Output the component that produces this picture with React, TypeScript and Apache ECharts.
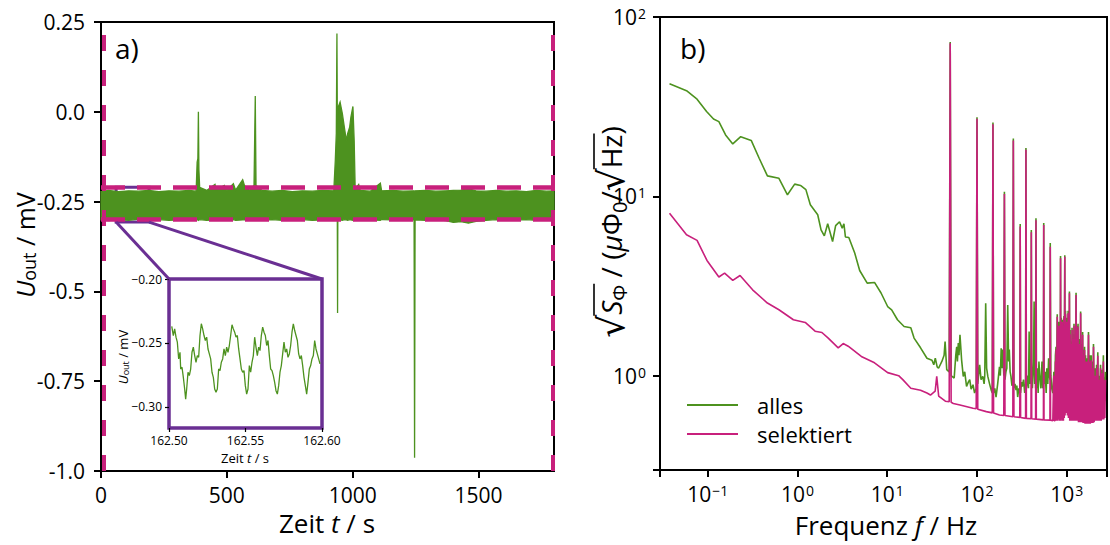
import React, { useEffect, useRef } from 'react';
import * as echarts from 'echarts';

const GREEN = '#4d921f';
const MAGENTA = '#c8207c';
const PURPLE = '#6a2f93';
const FONT = '"Open Sans", "DejaVu Sans", sans-serif';
const RAD_FONT = '"DejaVu Sans", sans-serif';

// ---------- panel a): envelope of the recorded trace [time s, upper mV, lower mV]
const traceEnvelope: [number, number, number][] = [
  [0, -0.222, -0.301], [30, -0.219, -0.303], [70, -0.222, -0.300], [110, -0.220, -0.302],
  [150, -0.221, -0.299], [190, -0.219, -0.303], [230, -0.222, -0.300], [270, -0.220, -0.302],
  [310, -0.221, -0.301], [350, -0.219, -0.300], [378, -0.221, -0.302], [382, -0.14, -0.301],
  [385, -0.13, -0.300], [387, 0.0, -0.302], [389, -0.16, -0.301], [392, -0.21, -0.300],
  [420, -0.219, -0.302], [453, -0.202, -0.301], [458, -0.218, -0.300], [490, -0.205, -0.302],
  [500, -0.219, -0.301], [526, -0.200, -0.300], [535, -0.218, -0.302], [563, -0.189, -0.301],
  [570, -0.205, -0.300], [590, -0.219, -0.302], [608, -0.205, -0.301], [613, 0.044, -0.300],
  [616, -0.205, -0.302], [640, -0.219, -0.301], [680, -0.221, -0.300], [720, -0.219, -0.302],
  [760, -0.222, -0.301], [800, -0.220, -0.300], [840, -0.221, -0.302], [880, -0.219, -0.301],
  [925, -0.220, -0.300], [931, -0.135, -0.302], [935, -0.06, -0.301], [937.5, 0.218, -0.300],
  [939, -0.02, -0.300], [940, -0.02, -0.56], [941, 0.01, -0.300], [950, 0.027, -0.301],
  [959, -0.005, -0.302], [967, -0.043, -0.300], [975, -0.08, -0.301], [980, -0.061, -0.302],
  [988, -0.043, -0.300], [993, -0.015, -0.301], [1001, 0.015, -0.302], [1006, -0.08, -0.300],
  [1010, -0.215, -0.301], [1024, -0.202, -0.302], [1030, -0.219, -0.300], [1070, -0.221, -0.301],
  [1110, -0.199, -0.302], [1115, -0.220, -0.300], [1160, -0.219, -0.301], [1200, -0.221, -0.302],
  [1244, -0.220, -0.300], [1246, -0.221, -0.963], [1248, -0.220, -0.301], [1290, -0.219, -0.302],
  [1330, -0.221, -0.300], [1370, -0.220, -0.303], [1400, -0.219, -0.308], [1430, -0.218, -0.306],
  [1460, -0.214, -0.310], [1490, -0.220, -0.305], [1530, -0.221, -0.302], [1570, -0.219, -0.300],
  [1610, -0.221, -0.302], [1650, -0.220, -0.301], [1690, -0.222, -0.300], [1730, -0.219, -0.302],
  [1770, -0.221, -0.301], [1800, -0.220, -0.300],
];
const selectionTimes = [10, 1795];
const selectionLevels = [-0.21, -0.305];
const zoomBoxTime = [60, 191];
const zoomBoxLevel = [-0.307, -0.21];

const mainXTicks = [0, 500, 1000, 1500];
const mainYTicks = [-1.0, -0.75, -0.5, -0.25, 0.0, 0.25];
const mainYTickLabels = ['-1.0', '-0.75', '-0.5', '-0.25', '0.0', '0.25'];

// ---------- inset
const insetTime = [
  162.5018, 162.50283, 162.5037, 162.50458, 162.50545, 162.50632, 162.50719, 162.50763, 162.5085, 162.50937,
  162.51024, 162.51089, 162.51155, 162.51242, 162.51329, 162.51416, 162.51503, 162.5159, 162.51678, 162.51765,
  162.51852, 162.51939, 162.52026, 162.52113, 162.522, 162.52288, 162.52375, 162.52462, 162.52549, 162.52636,
  162.52723, 162.5281, 162.52898, 162.52985, 162.53072, 162.53159, 162.53246, 162.53333, 162.5342, 162.53508,
  162.53595, 162.53682, 162.53769, 162.53856, 162.53943, 162.5403, 162.54118, 162.54205, 162.54292, 162.54379,
  162.54466, 162.54553, 162.54641, 162.54728, 162.54815, 162.54902, 162.54989, 162.55076, 162.55163,
  162.55251, 162.55338, 162.55425, 162.55512, 162.55599, 162.55686, 162.55773, 162.55861, 162.55948, 162.56035,
  162.56122, 162.56209, 162.56296, 162.56383, 162.56471, 162.56558, 162.56645, 162.56732, 162.56819, 162.56906,
  162.56993, 162.57081, 162.57168, 162.57255, 162.57342, 162.57429, 162.57516, 162.57603, 162.57691, 162.57778,
  162.57865, 162.57952, 162.58039, 162.58126, 162.58214, 162.58301, 162.58388, 162.58475, 162.58562, 162.58649,
  162.58736, 162.58824, 162.58911, 162.58998, 162.59085, 162.59172, 162.59259, 162.59346, 162.59434, 162.59521,
  162.59608, 162.59695, 162.59782, 162.59869,
];
const insetValue = [
  -0.237, -0.2442, -0.239, -0.2455, -0.2494, -0.2625, -0.2573, -0.2704, -0.269, -0.2769,
  -0.286, -0.2939, -0.286, -0.2729, -0.2755, -0.2704, -0.2573, -0.2533, -0.2599, -0.2651,
  -0.2599, -0.2612, -0.2442, -0.235, -0.239, -0.2442, -0.2481, -0.2455, -0.2547, -0.2586,
  -0.2625, -0.2729, -0.2769, -0.286, -0.2886, -0.286, -0.2704, -0.2716, -0.2651, -0.2625,
  -0.2547, -0.2599, -0.2533, -0.2573, -0.252, -0.2442, -0.2358, -0.239, -0.2416, -0.2455,
  -0.2442, -0.2547, -0.2625, -0.2704, -0.2729, -0.2716, -0.2834, -0.29, -0.286,
  -0.2677, -0.2729, -0.2651, -0.2599, -0.2455, -0.2533, -0.2599, -0.2533, -0.256, -0.2442,
  -0.2376, -0.2416, -0.2442, -0.252, -0.2481, -0.2599, -0.2704, -0.2716, -0.2755, -0.2808,
  -0.2873, -0.29, -0.2834, -0.2729, -0.2677, -0.2586, -0.2494, -0.2573, -0.2547, -0.2612,
  -0.2586, -0.252, -0.2416, -0.235, -0.2403, -0.2442, -0.2481, -0.2586, -0.2625, -0.2599,
  -0.2677, -0.2769, -0.2834, -0.29, -0.2808, -0.2704, -0.2677, -0.2625, -0.2599, -0.2481,
  -0.2547, -0.2586, -0.2625, -0.2664,
];
const insetXTicks = [162.5, 162.55, 162.6];
const insetYTicks = [-0.3, -0.25, -0.2];

// ---------- panel b): spectral density [frequency Hz, sqrt(S) µΦ0/√Hz]
const psdAlles: [number, number][] = [
  [0.0375, 42.4], [0.058, 38.8], [0.076, 34.8], [0.097, 29.7], [0.116, 27.0], [0.133, 26.1], [0.158, 22.0],
  [0.19, 19.6], [0.233, 21.5], [0.305, 20.5], [0.374, 16.3], [0.462, 13.0], [0.621, 12.6], [0.773, 10.2],
  [0.93, 11.7], [1.08, 11.5], [1.24, 10.9], [1.39, 8.97], [1.68, 7.89], [1.83, 6.5], [1.99, 6.02], [2.17, 7.03],
  [2.46, 5.6], [2.66, 6.86], [2.94, 7.21], [3.15, 6.65], [3.29, 7.03], [3.42, 5.93], [3.73, 5.89], [4.34, 4.83],
  [4.93, 3.86], [5.98, 3.28], [7.21, 3.31], [8.53, 2.89], [10.1, 2.43], [11.2, 2.33], [13.0, 2.05], [15.4, 1.88],
  [18.3, 1.85], [19.9, 1.62], [23.5, 1.43], [27.7, 1.25], [31.5, 1.22], [33.0, 1.15], [34.3, 1.25], [36.0, 1.12],
  [37.3, 1.1], [40.6, 1.2], [43.0, 1.3], [44.1, 1.55], [46.0, 1.08], [49.0, 1.05], [50.3, 72.5], [51.5, 1.0],
  [55.7, 0.97], [58.0, 1.3], [59.4, 1.45], [60.5, 1.2], [61.9, 1.52], [63.0, 1.3], [64.6, 1.69], [67.4, 1.22],
  [70.3, 0.99], [73.0, 1.05], [76.5, 0.87], [80.0, 0.92], [83.0, 0.95], [86.0, 0.84], [90.3, 0.89], [94.0, 0.8],
  [98, 0.85], [100, 27.6], [102, 0.9], [107, 1.15], [111, 0.95], [116, 0.99], [120, 0.9], [122, 1.0], [125, 2.53],
  [128, 1.1], [132, 0.99], [138, 0.9], [144, 0.83], [148, 0.8], [150.6, 25.8], [153, 0.8], [158, 0.85], [163, 0.76],
  [170, 0.9], [178, 1.12], [182, 1.0], [186, 1.42], [190, 1.1], [194, 1.4], [199, 1.0], [202, 10.6], [205, 0.95],
  [210, 1.05], [215, 1.1], [220, 2.48], [225, 1.2], [229, 1.4], [234, 1.05], [239, 0.99], [245, 0.88], [251, 0.9],
  [254, 21.0], [258, 0.85], [265, 0.9], [272, 0.83], [278, 0.88], [284, 0.76], [292, 0.85], [300, 0.8], [303, 7.0],
  [306, 0.8], [313, 0.92], [320, 0.87], [330, 0.95], [340, 0.8], [348, 0.9], [351, 18.6], [355, 0.85], [362, 0.92],
  [370, 1.0], [375, 0.85], [381, 1.76], [386, 1.0], [390, 0.9], [400, 0.95], [403, 6.5], [407, 0.99], [414, 0.85],
  [420, 1.0], [427, 1.2], [433, 2.59], [437, 1.1], [440, 0.9], [446, 1.3], [450, 0.85], [454, 7.55], [460, 0.85],
  [470, 1.1], [480, 0.8], [490, 1.2], [500, 1.0], [515, 0.85], [530, 1.2], [540, 0.85], [550, 0.9], [554, 7.1],
  [560, 0.9], [575, 1.05], [590, 0.8], [600, 1.1], [615, 0.9], [628, 1.25], [640, 1.0], [650, 0.95], [655, 5.5],
  [665, 1.0], [680, 0.85], [700, 0.8], [712, 0.95], [719, 1.05], [730, 0.75], [748, 1.3], [760, 1.45], [768, 0.75],
  [784, 2.2], [792, 0.75], [810, 2.0], [820, 1.55], [830, 0.75], [840, 2.0], [846, 0.75], [853, 4.65], [860, 0.75],
  [870, 2.1], [878, 0.75], [890, 2.05], [898, 0.75], [910, 2.0], [918, 0.75], [930, 2.15], [938, 0.75], [951, 4.7],
  [958, 0.8], [970, 2.3], [980, 0.8], [990, 1.7], [1000, 0.85], [1010, 2.1], [1018, 0.8], [1036, 2.3], [1045, 0.75],
  [1055, 1.9], [1062, 0.75], [1071, 2.95], [1080, 0.72], [1090, 1.8], [1100, 0.72], [1120, 1.55], [1132, 0.72],
  [1146, 1.85], [1160, 0.72], [1175, 1.7], [1190, 0.72], [1205, 1.95], [1220, 0.72], [1237, 1.7], [1250, 0.72],
  [1270, 2.9], [1285, 0.72], [1300, 1.9], [1318, 0.72], [1336, 1.95], [1352, 0.7], [1370, 1.6], [1385, 0.7],
  [1400, 1.55], [1414, 0.7], [1428, 2.28], [1445, 0.7], [1460, 1.5], [1480, 0.7], [1503, 1.75], [1520, 0.7],
  [1540, 1.4], [1560, 0.7], [1580, 1.45], [1600, 0.7], [1620, 1.3], [1650, 0.7], [1680, 1.25], [1710, 0.7],
  [1747, 1.75], [1775, 0.7], [1800, 1.3], [1830, 0.7], [1871, 1.3], [1900, 0.7], [1940, 1.2], [1960, 0.7],
  [1986, 1.5], [2020, 0.72], [2060, 1.1], [2100, 0.72], [2150, 1.15], [2180, 0.72], [2218, 1.35], [2250, 0.72],
  [2300, 1.0], [2340, 0.72], [2380, 1.15], [2420, 0.72], [2455, 1.08], [2500, 0.72], [2560, 1.3], [2590, 0.72],
  [2620, 0.98], [2660, 0.72], [2700, 1.05],
];
const psdSelektiert: [number, number][] = [
  [0.0375, 8.05], [0.058, 6.1], [0.076, 5.68], [0.098, 4.39], [0.133, 3.55], [0.154, 3.73], [0.19, 3.4],
  [0.229, 3.62], [0.316, 3.01], [0.462, 2.54], [0.621, 2.33], [0.9, 2.05], [1.22, 1.98], [1.57, 1.77], [1.87, 1.74],
  [2.2, 1.62], [2.84, 1.43], [3.23, 1.51], [3.67, 1.46], [5.14, 1.28], [7.21, 1.18], [10.1, 1.04], [13.4, 1.0],
  [14.9, 0.95], [18.3, 0.85], [23.5, 0.83], [27.7, 0.8], [30.3, 0.78], [34.2, 0.82], [35.6, 0.99], [37.4, 0.77],
  [44.4, 0.72], [49.0, 0.715], [50.3, 71.4], [51.5, 0.71], [54.5, 0.7], [64.6, 0.686], [90.3, 0.658], [98, 0.655],
  [100, 27.1], [102, 0.65], [127, 0.63], [148, 0.62], [150.6, 25.2], [153, 0.62], [178, 0.604], [199, 0.6],
  [202, 10.3], [205, 0.6], [251, 0.59], [254, 20.5], [258, 0.59], [300, 0.585], [303, 6.78], [306, 0.585],
  [348, 0.578], [351, 18.2], [355, 0.578], [400, 0.575], [403, 6.31], [407, 0.575], [450, 0.572], [454, 7.36],
  [458, 0.572], [550, 0.567], [554, 6.93], [558, 0.567], [650, 0.565], [655, 5.24], [660, 0.565], [700, 0.56],
  [712, 0.9], [719, 1.0], [726, 0.56], [740, 0.56], [748, 1.2], [755, 0.57], [760, 1.4], [768, 0.56], [776, 0.56],
  [784, 2.13], [792, 0.56], [802, 0.56], [810, 1.9], [815, 0.57], [820, 1.5], [830, 0.56], [840, 1.9], [846, 0.56],
  [853, 4.52], [860, 0.56], [870, 2.0], [878, 0.57], [890, 2.0], [898, 0.56], [910, 1.9], [918, 0.56], [930, 2.1],
  [938, 0.58], [951, 4.6], [958, 0.6], [970, 2.2], [980, 0.62], [990, 1.6], [1000, 0.62], [1010, 2.0], [1018, 0.6],
  [1036, 2.23], [1045, 0.58], [1055, 1.8], [1062, 0.58], [1071, 2.88], [1080, 0.56], [1090, 1.7], [1100, 0.56],
  [1108, 1.2], [1114, 0.58], [1120, 1.5], [1132, 0.56], [1146, 1.8], [1160, 0.56], [1175, 1.6], [1190, 0.56],
  [1205, 1.9], [1220, 0.56], [1237, 1.6], [1250, 0.56], [1270, 2.82], [1285, 0.56], [1300, 1.8], [1318, 0.56],
  [1336, 1.88], [1352, 0.55], [1370, 1.5], [1385, 0.55], [1400, 1.5], [1414, 0.55], [1428, 2.23], [1445, 0.55],
  [1460, 1.4], [1480, 0.55], [1503, 1.69], [1520, 0.545], [1540, 1.3], [1560, 0.545], [1580, 1.39], [1600, 0.54],
  [1620, 1.2], [1650, 0.54], [1680, 1.2], [1710, 0.54], [1747, 1.69], [1775, 0.54], [1800, 1.2], [1830, 0.54],
  [1871, 1.22], [1900, 0.545], [1940, 1.1], [1960, 0.545], [1986, 1.45], [2020, 0.55], [2060, 1.0], [2100, 0.56],
  [2150, 1.1], [2180, 0.56], [2218, 1.29], [2250, 0.56], [2300, 0.95], [2340, 0.56], [2380, 1.1], [2420, 0.56],
  [2455, 1.03], [2500, 0.57], [2560, 1.2], [2590, 0.57], [2620, 0.94], [2660, 0.58], [2700, 0.95],
];
const logTickValues = [0.1, 1, 10, 100, 1000];
const logTickExponents = ['−1', '0', '1', '2', '3'];

function logLabel(v: number): string {
  const i = logTickValues.findIndex((t) => Math.abs(Math.log10(v) - Math.log10(t)) < 1e-6);
  return i >= 0 ? '10{s|' + logTickExponents[i] + '}' : '';
}

const tickLabelStyle = { fontSize: 21, fontFamily: FONT, color: '#000' };
const supRich = { s: { fontSize: 14, fontFamily: FONT, color: '#000', verticalAlign: 'top', padding: [0, 0, 0, 1] } };

const RAD_SCALE = 1.3;

function richFor(size: number) {
  return {
    r: { fontSize: size, fontFamily: FONT, fill: '#000' },
    rad: { fontSize: Math.round(size * RAD_SCALE), fontFamily: RAD_FONT, fill: '#000' },
    i: { fontSize: size, fontFamily: FONT, fontStyle: 'italic', fill: '#000' },
    sub: { fontSize: Math.round(size * 0.7), fontFamily: FONT, fill: '#000', verticalAlign: 'bottom' },
  };
}

function titleText(x: number, y: number, text: string, size: number, rotate = false) {
  return {
    type: 'text',
    x,
    y,
    rotation: rotate ? Math.PI / 2 : 0,
    z: 100,
    style: {
      text,
      rich: richFor(size),
      fontSize: size,
      fontFamily: FONT,
      fill: '#000',
      align: 'center',
      verticalAlign: 'middle',
    },
  };
}

// measure text widths with the same fonts so that the radical bars can be placed
function measure(text: string, size: number, italic = false, family = FONT): number {
  const c = document.createElement('canvas').getContext('2d')!;
  c.font = `${italic ? 'italic ' : ''}${size}px ${family}`;
  return c.measureText(text).width;
}

export default function App() {
  const ref = useRef<HTMLDivElement>(null);
  useEffect(() => {
    const chart = echarts.init(ref.current!, null, { renderer: 'svg' });
    const axisLineStyle = { show: true, onZero: false, lineStyle: { color: '#000', width: 2 } };
    const option: any = {
      animation: false,
      textStyle: { fontFamily: FONT },
      grid: [
        { left: 101, top: 22, width: 453, height: 449, show: true, borderColor: '#000', borderWidth: 2, backgroundColor: 'transparent' },
        { left: 169, top: 279, width: 153, height: 149, show: true, borderColor: PURPLE, borderWidth: 3.5, backgroundColor: '#fff' },
        { left: 660, top: 17, width: 452, height: 453, show: true, borderColor: '#000', borderWidth: 2, backgroundColor: 'transparent' },
      ],
      legend: {
        data: ['alles', 'selektiert'],
        orient: 'vertical',
        left: 682,
        top: 389,
        icon: 'rect',
        itemWidth: 51,
        itemHeight: 2,
        itemGap: 7,
        textStyle: { fontSize: 22, fontFamily: FONT, color: '#000', lineHeight: 22, padding: [0, 0, 0, 14] },
      },
      xAxis: [
        {
          gridIndex: 0, type: 'value', min: 0, max: 1800,
          axisLine: axisLineStyle,
          axisTick: { show: true, length: 7, customValues: mainXTicks, lineStyle: { color: '#000', width: 2 } },
          axisLabel: { ...tickLabelStyle, customValues: mainXTicks, margin: 13, formatter: (v: number) => String(v) },
          splitLine: { show: false },
        },
        {
          gridIndex: 1, type: 'value', min: 162.5, max: 162.6,
          axisLine: { show: false, onZero: false },
          axisTick: { show: true, length: 4, customValues: insetXTicks, lineStyle: { color: '#000', width: 1.2 } },
          axisLabel: { fontSize: 12, fontFamily: FONT, color: '#000', margin: 6, customValues: insetXTicks, formatter: (v: number) => v.toFixed(2) },
          splitLine: { show: false },
        },
        {
          gridIndex: 2, type: 'log', logBase: 10, min: 0.02937, max: 2809,
          axisLine: axisLineStyle,
          axisTick: { show: true, length: 7, lineStyle: { color: '#000', width: 2 } },
          axisLabel: { ...tickLabelStyle, margin: 13, formatter: logLabel, rich: supRich },
          splitLine: { show: false },
          minorTick: { show: false },
        },
      ],
      yAxis: [
        {
          gridIndex: 0, type: 'value', min: -1.0, max: 0.25, interval: 0.25,
          axisLine: axisLineStyle,
          axisTick: { show: true, length: 7, lineStyle: { color: '#000', width: 2 } },
          axisLabel: {
            ...tickLabelStyle, margin: 16,
            formatter: (v: number) => {
              const i = mainYTicks.findIndex((t) => Math.abs(t - v) < 1e-9);
              return i >= 0 ? mainYTickLabels[i] : '';
            },
          },
          splitLine: { show: false },
        },
        {
          gridIndex: 1, type: 'value', min: -0.3165, max: -0.2,
          axisLine: { show: false, onZero: false },
          axisTick: { show: true, length: 4, customValues: insetYTicks, lineStyle: { color: '#000', width: 1.2 } },
          axisLabel: { fontSize: 12, fontFamily: FONT, color: '#000', margin: 7, customValues: insetYTicks, formatter: (v: number) => '−' + Math.abs(v).toFixed(2) },
          splitLine: { show: false },
        },
        {
          gridIndex: 2, type: 'log', logBase: 10, min: 0.2978, max: 100,
          axisLine: axisLineStyle,
          axisTick: { show: true, length: 7, lineStyle: { color: '#000', width: 2 } },
          axisLabel: { ...tickLabelStyle, margin: 14, formatter: logLabel, rich: supRich },
          splitLine: { show: false },
          minorTick: { show: false },
        },
      ],
      series: [
        {
          name: 'Auswahl',
          type: 'line', xAxisIndex: 0, yAxisIndex: 0, data: [], z: 1, silent: true,
          markLine: {
            silent: true, symbol: 'none', label: { show: false },
            data: [
              ...selectionTimes.map((t) => ({ xAxis: t, lineStyle: { color: MAGENTA, width: 4, type: [16, 19] } })),
              ...selectionLevels.map((l) => ({ yAxis: l, lineStyle: { color: MAGENTA, width: 4.5, type: [24, 12] } })),
            ],
          },
        },
        {
          name: 'Signal',
          type: 'custom', xAxisIndex: 0, yAxisIndex: 0, z: 2, silent: true,
          data: traceEnvelope,
          encode: { x: 0, y: [1, 2] },
          renderItem: (params: any, api: any) => {
            if (params.dataIndex !== 0) return null;
            const upper = traceEnvelope.map((d) => api.coord([d[0], d[1]]));
            const lower = traceEnvelope.map((d) => api.coord([d[0], d[2]])).reverse();
            return {
              type: 'polygon',
              shape: { points: upper.concat(lower) },
              style: { fill: GREEN, stroke: GREEN, lineWidth: 1.3 },
            };
          },
        },
        {
          name: 'Zoom',
          type: 'line', xAxisIndex: 0, yAxisIndex: 0, data: [], z: 3, silent: true,
          markArea: {
            silent: true,
            itemStyle: { color: 'rgba(0,0,0,0)', borderColor: PURPLE, borderWidth: 3 },
            data: [[{ xAxis: zoomBoxTime[0], yAxis: zoomBoxLevel[1] }, { xAxis: zoomBoxTime[1], yAxis: zoomBoxLevel[0] }]],
          },
        },
        {
          name: 'Ausschnitt',
          type: 'line', xAxisIndex: 1, yAxisIndex: 1, showSymbol: false, silent: true,
          data: insetTime.map((t, i) => [t, insetValue[i]]),
          lineStyle: { color: GREEN, width: 1.3 },
          itemStyle: { color: GREEN },
        },
        {
          name: 'alles',
          type: 'line', xAxisIndex: 2, yAxisIndex: 2, showSymbol: false, silent: true,
          data: psdAlles,
          lineStyle: { color: GREEN, width: 1.6 },
          itemStyle: { color: GREEN },
        },
        {
          name: 'selektiert',
          type: 'line', xAxisIndex: 2, yAxisIndex: 2, showSymbol: false, silent: true,
          data: psdSelektiert,
          lineStyle: { color: MAGENTA, width: 1.6 },
          itemStyle: { color: MAGENTA },
        },
      ],
    };
    chart.setOption(option);

    const bl = chart.convertToPixel({ gridIndex: 0 }, [zoomBoxTime[0], zoomBoxLevel[0]]) as number[];
    const br = chart.convertToPixel({ gridIndex: 0 }, [zoomBoxTime[1], zoomBoxLevel[0]]) as number[];
    const tl = chart.convertToPixel({ gridIndex: 1 }, [insetXTicks[0], insetYTicks[2]]) as number[];
    const tr = chart.convertToPixel({ gridIndex: 1 }, [insetXTicks[2], insetYTicks[2]]) as number[];

    // right y title, rotated; compute radical bar extents along the text
    const ts = 28;
    const rs = Math.round(ts * RAD_SCALE);
    const ss = Math.round(ts * 0.7);
    const rad = measure('√', rs, false, RAD_FONT);
    const segs = [
      rad, measure('S', ts, true), measure('Φ', ss), measure(' / (', ts), measure('μ', ts, true), measure('Φ', ts),
      measure('0', ss), measure('/', ts), rad, measure('Hz', ts), measure(')', ts),
    ];
    const total = segs.reduce((a, b) => a + b, 0);
    const cx = 611;
    const cy = 232;
    const start = cy + total / 2; // text reads bottom-to-top
    const pos = (k: number) => start - segs.slice(0, k).reduce((a, b) => a + b, 0);
    const barX = cx - 17;
    const bar1 = [pos(1) + 1, pos(3) - 1];
    const bar2 = [pos(9) + 1, pos(10) - 1];

    chart.setOption({
      graphic: [
        { type: 'line', z: 50, shape: { x1: bl[0], y1: bl[1], x2: tl[0], y2: tl[1] }, style: { stroke: PURPLE, lineWidth: 3 } },
        { type: 'line', z: 50, shape: { x1: br[0], y1: br[1], x2: tr[0], y2: tr[1] }, style: { stroke: PURPLE, lineWidth: 3 } },
        {
          type: 'text', x: 115, y: 48, z: 100,
          style: { text: 'a)', fontSize: 28, fontFamily: FONT, fill: '#000', align: 'left', verticalAlign: 'middle' },
        },
        {
          type: 'text', x: 680, y: 48, z: 100,
          style: { text: 'b)', fontSize: 28, fontFamily: FONT, fill: '#000', align: 'left', verticalAlign: 'middle' },
        },
        titleText(327, 523, 'Zeit {i|t} / s', 26),
        titleText(886, 525, 'Frequenz {i|f} / Hz', 26),
        titleText(25, 245, '{i|U}{sub|out} / mV', 25, true),
        titleText(cx, cy, '{rad|√}{i|S}{sub|Φ} / ({i|μ}Φ{sub|0}/{rad|√}Hz)', ts, true),
        { type: 'line', z: 100, shape: { x1: barX, y1: bar1[0], x2: barX, y2: bar1[1] }, style: { stroke: '#000', lineWidth: 1.6 } },
        { type: 'line', z: 100, shape: { x1: barX, y1: bar2[0], x2: barX, y2: bar2[1] }, style: { stroke: '#000', lineWidth: 1.6 } },
        titleText(245, 458, 'Zeit {i|t} / s', 13),
        titleText(123, 357, '{i|U}{sub|out} / mV', 13, true),
      ],
    });

    return () => chart.dispose();
  }, []);
  return <div ref={ref} style={{ position: 'absolute', left: 0, top: 0, width: 1110, height: 545 }} />;
}
